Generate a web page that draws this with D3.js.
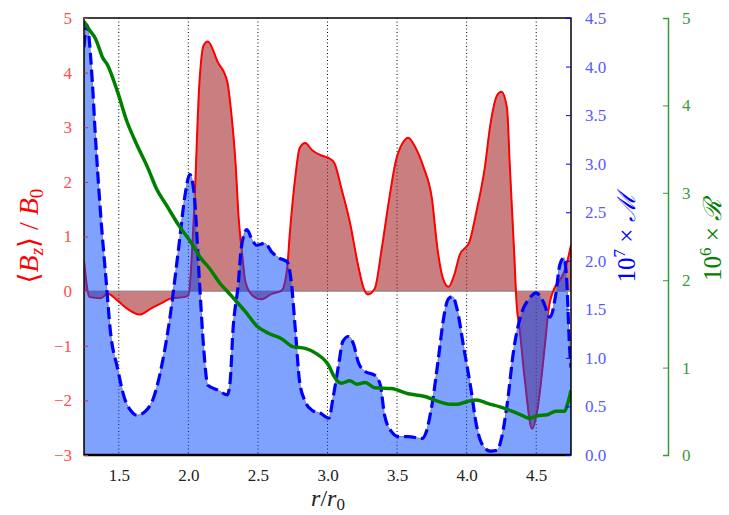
<!DOCTYPE html>
<html>
<head>
<meta charset="utf-8">
<title>Bz, M and R profiles</title>
<script src="https://d3js.org/d3.v7.min.js"></script>
<style>
  body { margin: 0; background: #fff; }
  svg text { font-family: "Liberation Serif", "DejaVu Serif", serif; }
</style>
</head>
<body>
<script>

// radius r/r0 and <Bz>/B0 (red, left axis)
var rB = [1.25,1.29,1.37,1.42,1.49,1.56,1.65,1.73,1.80,1.88,1.97,2.00,2.04,2.08,2.11,2.14,2.21,2.28,2.31,2.34,
          2.36,2.39,2.41,2.46,2.52,2.60,2.67,2.71,2.73,2.77,2.80,2.84,2.89,2.95,3.02,3.05,3.10,3.16,3.22,3.26,
          3.29,3.34,3.39,3.44,3.49,3.54,3.58,3.63,3.69,3.75,3.79,3.83,3.87,3.91,3.95,4.02,4.07,4.13,4.17,4.22,
          4.25,4.29,4.31,4.34,4.36,4.38,4.42,4.47,4.51,4.56,4.59,4.63,4.67,4.71,4.75];
var bz = [0.56,-0.11,-0.13,-0.05,-0.17,-0.32,-0.43,-0.32,-0.23,-0.13,-0.11,-0.08,1.39,3.83,4.50,4.57,4.20,3.83,3.22,2.31,
          1.39,0.60,0.17,-0.08,-0.15,-0.05,0.01,0.42,1.08,2.12,2.62,2.71,2.58,2.49,2.42,2.34,1.88,1.27,0.47,0.05,
          -0.06,0.05,0.78,1.63,2.37,2.71,2.81,2.64,2.27,1.70,0.78,0.23,0.08,0.29,0.66,0.90,1.45,2.25,3.04,3.59,
          3.65,3.35,2.31,0.78,-0.26,-0.68,-1.67,-2.52,-2.15,-1.05,-0.32,0.05,0.20,0.42,0.84];

// 10^7 x M (blue dashed, right axis)
var rM = [1.25,1.27,1.31,1.33,1.37,1.41,1.44,1.49,1.54,1.59,1.63,1.69,1.75,1.81,1.87,1.93,1.98,2.01,2.04,2.08,
          2.11,2.14,2.21,2.28,2.30,2.32,2.36,2.38,2.42,2.46,2.49,2.55,2.60,2.65,2.71,2.74,2.77,2.80,2.84,2.89,
          2.95,3.01,3.04,3.08,3.11,3.15,3.19,3.22,3.27,3.34,3.38,3.41,3.46,3.51,3.58,3.68,3.71,3.75,3.80,3.83,
          3.87,3.90,3.93,3.98,4.03,4.07,4.12,4.17,4.22,4.25,4.29,4.34,4.39,4.45,4.50,4.55,4.60,4.64,4.67,4.70,
          4.72,4.74,4.75];
var mm = [4.20,4.43,3.84,3.33,2.47,1.78,1.27,0.90,0.59,0.45,0.41,0.45,0.59,0.93,1.44,2.13,2.71,2.89,2.71,1.78,
          1.10,0.72,0.67,0.62,0.75,1.27,1.78,2.13,2.32,2.21,2.16,2.18,2.09,2.03,1.99,1.78,1.27,0.75,0.55,0.46,
          0.43,0.38,0.59,0.93,1.17,1.22,1.13,0.96,0.86,0.82,0.72,0.41,0.24,0.19,0.19,0.17,0.24,0.51,1.03,1.37,
          1.61,1.63,1.51,1.10,0.69,0.31,0.09,0.04,0.05,0.17,0.51,1.10,1.44,1.61,1.67,1.58,1.42,1.65,1.96,2.03,
          1.78,1.10,0.90];

// 10^6 x R (green, outer right axis)
var rR = [1.25,1.29,1.33,1.36,1.38,1.42,1.49,1.56,1.63,1.71,1.77,1.85,1.93,2.02,2.09,2.15,2.22,2.31,2.41,2.49,
          2.58,2.67,2.75,2.84,2.92,3.01,3.04,3.10,3.16,3.21,3.27,3.34,3.46,3.58,3.70,3.80,3.88,3.93,4.00,4.07,
          4.15,4.24,4.31,4.39,4.45,4.51,4.58,4.64,4.70,4.73,4.75];
var rr = [4.96,4.86,4.77,4.65,4.56,4.46,4.16,3.81,3.55,3.28,3.05,2.84,2.63,2.43,2.25,2.14,1.98,1.82,1.64,1.48,
          1.39,1.33,1.24,1.22,1.16,1.02,0.92,0.82,0.85,0.81,0.83,0.77,0.76,0.70,0.67,0.61,0.58,0.58,0.61,0.63,
          0.59,0.55,0.51,0.46,0.42,0.45,0.46,0.50,0.50,0.61,0.74];

var xTicks = [1.5, 2.0, 2.5, 3.0, 3.5, 4.0, 4.5];
var bzTicks = [-3, -2, -1, 0, 1, 2, 3, 4, 5];
var mTicks = [0, 0.5, 1.0, 1.5, 2.0, 2.5, 3.0, 3.5, 4.0, 4.5];
var rTicks = [0, 1, 2, 3, 4, 5];

var W = 729, H = 515;
var pLeft = 84, pRight = 571, pTop = 18, pBottom = 455;

var svg = d3.select("body").append("svg")
    .attr("width", W).attr("height", H);

var x = d3.scaleLinear().domain([1.25, 4.75]).range([pLeft, pRight]);
var yB = d3.scaleLinear().domain([-3, 5]).range([pBottom, pTop]);
var yM = d3.scaleLinear().domain([0, 4.5]).range([pBottom, pTop]);
var yR = d3.scaleLinear().domain([0, 5]).range([pBottom, pTop]);

var bzData = rB.map(function(r, i) { return [r, bz[i]]; });
var mData = rM.map(function(r, i) { return [r, mm[i]]; });
var rData = rR.map(function(r, i) { return [r, rr[i]]; });

svg.append("defs").append("clipPath").attr("id", "clip")
  .append("rect").attr("x", pLeft).attr("y", pTop)
  .attr("width", pRight - pLeft).attr("height", pBottom - pTop);

var plot = svg.append("g").attr("clip-path", "url(#clip)");

// dotted grid
plot.selectAll(".grid").data(xTicks).enter().append("line")
    .attr("x1", function(d) { return x(d); }).attr("x2", function(d) { return x(d); })
    .attr("y1", pTop).attr("y2", pBottom)
    .attr("stroke", "#000").attr("stroke-width", 1)
    .attr("stroke-dasharray", "1,2.5");

var curve = d3.curveMonotoneX;

// Bz fill + line
plot.append("path").datum(bzData)
    .attr("d", d3.area().curve(curve)
      .x(function(d) { return x(d[0]); })
      .y0(yB(0)).y1(function(d) { return yB(d[1]); }))
    .attr("fill", "rgb(165,42,42)").attr("fill-opacity", 0.6)
    .attr("stroke", "#808080").attr("stroke-width", 1);

plot.append("path").datum(bzData)
    .attr("d", d3.line().curve(curve)
      .x(function(d) { return x(d[0]); })
      .y(function(d) { return yB(d[1]); }))
    .attr("fill", "none").attr("stroke", "red").attr("stroke-width", 2);

// M fill + dashed line
plot.append("path").datum(mData)
    .attr("d", d3.area().curve(curve)
      .x(function(d) { return x(d[0]); })
      .y0(yM(0)).y1(function(d) { return yM(d[1]); }))
    .attr("fill", "rgb(0,70,255)").attr("fill-opacity", 0.5)
    .attr("stroke", "#808080").attr("stroke-width", 1);

plot.append("path").datum(mData)
    .attr("d", d3.line().curve(curve)
      .x(function(d) { return x(d[0]); })
      .y(function(d) { return yM(d[1]); }))
    .attr("fill", "none").attr("stroke", "blue").attr("stroke-width", 3.2)
    .attr("stroke-dasharray", "12,5");

// R line
plot.append("path").datum(rData)
    .attr("d", d3.line().curve(curve)
      .x(function(d) { return x(d[0]); })
      .y(function(d) { return yR(d[1]); }))
    .attr("fill", "none").attr("stroke", "green").attr("stroke-width", 3.5);

// frame
svg.append("rect").attr("x", pLeft).attr("y", pTop)
    .attr("width", pRight - pLeft).attr("height", pBottom - pTop)
    .attr("fill", "none").attr("stroke", "#000").attr("stroke-width", 1.5);
svg.append("line").attr("x1", pLeft).attr("x2", pRight).attr("y1", pBottom).attr("y2", pBottom)
    .attr("stroke", "#000").attr("stroke-width", 2.5);

function styleAxis(g, col, txtCol) {
  g.select(".domain").remove();
  g.selectAll(".tick line").attr("stroke", col).attr("stroke-width", 1);
  g.selectAll(".tick text").attr("fill", txtCol).style("font-size", "17px");
}

// left axis (Bz)
var axL = svg.append("g").attr("transform", "translate(" + pLeft + ",0)")
    .call(d3.axisLeft(yB).tickValues(bzTicks).tickSize(-4).tickPadding(12).tickFormat(d3.format("d")));
styleAxis(axL, "#c03060", "#ff4d4d");

// right axis (M)
var axR = svg.append("g").attr("transform", "translate(" + pRight + ",0)")
    .call(d3.axisRight(yM).tickValues(mTicks).tickSize(-5).tickPadding(14).tickFormat(d3.format(".1f")));
styleAxis(axR, "blue", "#5959ff");

// outer right axis (R)
var gx = 668;
var axG = svg.append("g").attr("transform", "translate(" + gx + ",0)")
    .call(d3.axisRight(yR).tickValues(rTicks).tickSizeInner(-5).tickSizeOuter(-5).tickPadding(14).tickFormat(d3.format("d")));
axG.select(".domain").attr("stroke", "#3a9a3a").attr("stroke-width", 1.5);
axG.selectAll(".tick line").attr("stroke", "#3a9a3a").attr("stroke-width", 1);
axG.selectAll(".tick text").attr("fill", "#3a9a3a").style("font-size", "17px");

// bottom axis
var axB = svg.append("g").attr("transform", "translate(0," + pBottom + ")")
    .call(d3.axisBottom(x).tickValues(xTicks).tickSize(0).tickPadding(14).tickFormat(d3.format(".1f")));
axB.select(".domain").remove();
axB.selectAll(".tick text").attr("fill", "#222").style("font-size", "17px");

// axis labels
var lb = svg.append("text")
    .attr("transform", "translate(38,236) rotate(-90)")
    .attr("text-anchor", "middle").attr("fill", "red")
    .style("font-size", "28px");
lb.append("tspan").text("\u27E8");
lb.append("tspan").style("font-style", "italic").text("B");
lb.append("tspan").style("font-style", "italic").style("font-size", "19px").attr("dy", 5).text("z");
lb.append("tspan").attr("dy", -5).text("\u27E9 / ");
lb.append("tspan").style("font-style", "italic").text("B");
lb.append("tspan").style("font-size", "19px").attr("dy", 5).text("0");

var lm = svg.append("text")
    .attr("transform", "translate(635,238) rotate(-90)")
    .attr("text-anchor", "middle").attr("fill", "blue")
    .style("font-size", "25px");
lm.append("tspan").text("10");
lm.append("tspan").style("font-size", "17px").attr("dy", -10).text("7");
lm.append("tspan").attr("dy", 10).text(" \u00D7 ");
lm.append("tspan").style("font-style", "italic").text("\u2133");

var lr = svg.append("text")
    .attr("transform", "translate(721,240) rotate(-90)")
    .attr("text-anchor", "middle").attr("fill", "green")
    .style("font-size", "25px");
lr.append("tspan").text("10");
lr.append("tspan").style("font-size", "17px").attr("dy", -10).text("6");
lr.append("tspan").attr("dy", 10).text(" \u00D7 ");
lr.append("tspan").style("font-style", "italic").text("\u211B");

var lx = svg.append("text")
    .attr("x", 328).attr("y", 506)
    .attr("text-anchor", "middle").attr("fill", "#222")
    .style("font-size", "24px");
lx.append("tspan").style("font-style", "italic").text("r");
lx.append("tspan").text("/");
lx.append("tspan").style("font-style", "italic").text("r");
lx.append("tspan").style("font-size", "17px").attr("dy", 4).text("0");

</script>
</body>
</html>
